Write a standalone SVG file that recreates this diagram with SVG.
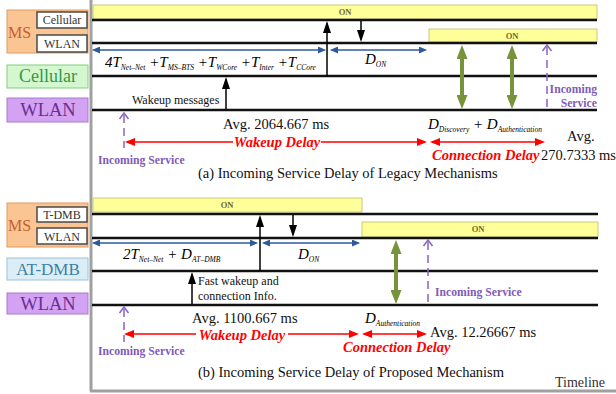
<svg xmlns="http://www.w3.org/2000/svg" width="616" height="394" viewBox="0 0 616 394">
<defs>
<style>
text{font-family:"Liberation Serif","Times New Roman",serif;}
.tl{stroke:#111;stroke-width:2.6;fill:none}
.bar{fill:#FFFF99;stroke:#C9C97A;stroke-width:1}
.on{font-size:8.5px;font-weight:bold;fill:#6b6b30;text-anchor:middle}
.blk{stroke:#000;stroke-width:1.5;fill:none;marker-end:url(#ab)}
.blu{stroke:#2E5A9C;stroke-width:1.3;fill:none;marker-start:url(#bh);marker-end:url(#bh)}
.grn{stroke:#77933C;stroke-width:4;fill:none;marker-start:url(#gh);marker-end:url(#gh)}
.red{stroke:#FF0000;stroke-width:1.6;fill:none;marker-end:url(#rh)}
.red2{stroke:#FF0000;stroke-width:1.6;fill:none;marker-start:url(#rh);marker-end:url(#rh)}
.pur{stroke:#8A63C2;stroke-width:1.5;stroke-dasharray:8 5;fill:none}
.purh{stroke:#8A63C2;stroke-width:1.5;fill:none}
.math{font-style:italic;font-size:15px;fill:#000}
.sub{font-size:7.5px}
.lab{font-size:14.5px;fill:#111}
.delay{font-size:14.5px;font-weight:bold;font-style:italic;fill:#FF0000}
.inc{font-size:11.7px;font-weight:bold;fill:#7F5AB8}
.note{font-size:12px;fill:#111}
.frame{stroke:#A0A0A0;stroke-width:3;fill:none}
.ms{fill:#FBC493;stroke:#E39B5E;stroke-width:1}
.inner{fill:#fff;stroke:#4a4a4a;stroke-width:1.5}
.innert{font-size:12px;fill:#333;text-anchor:middle}
.mst{font-size:16px;fill:#C8602A}
.big{text-anchor:middle}
</style>
<marker id="ab" markerUnits="userSpaceOnUse" markerWidth="12" markerHeight="8" refX="9.5" refY="4" orient="auto"><path d="M0,0 L12,4 L0,8 z" fill="#000"/></marker>
<marker id="bh" markerUnits="userSpaceOnUse" markerWidth="8" markerHeight="7" refX="6.5" refY="3.5" orient="auto-start-reverse"><path d="M0,0 L8,3.5 L0,7 z" fill="#2E5A9C"/></marker>
<marker id="gh" markerUnits="userSpaceOnUse" markerWidth="14" markerHeight="11" refX="8" refY="5.5" orient="auto-start-reverse"><path d="M0,0 L14,5.5 L0,11 z" fill="#77933C"/></marker>
<marker id="rh" markerUnits="userSpaceOnUse" markerWidth="10" markerHeight="8" refX="8" refY="4" orient="auto-start-reverse"><path d="M0,0 L10,4 L0,8 z" fill="#FF0000"/></marker>
</defs>
<rect width="616" height="394" fill="#fff"/>
<path class="frame" d="M91,0 V391 M90,391 H616"/>

<!-- top left labels -->
<g id="ms-legacy">
<rect class="ms" x="7" y="10" width="81" height="43"/>
<rect class="inner" x="37" y="12" width="50" height="16"/>
<rect class="inner" x="37" y="35" width="50" height="17"/>
<text class="mst" x="8" y="38">MS</text>
<text class="innert" x="62" y="24">Cellular</text>
<text class="innert" x="62" y="48">WLAN</text>
</g>
<g id="cellular">
<rect x="7" y="65" width="81" height="23" fill="#D5F7CF" stroke="#7FCF7F"/>
<text class="big" x="48" y="82" font-size="18" fill="#2F9A46">Cellular</text>
</g>
<g id="wlan-legacy">
<rect x="7" y="98" width="81" height="24" fill="#D3A2F2" stroke="#A77BD0"/>
<text class="big" x="48" y="116" font-size="18.5" fill="#6B2D92">WLAN</text>
</g>

<!-- bottom left labels -->
<g id="ms-proposed">
<rect class="ms" x="7" y="203" width="81" height="44"/>
<rect class="inner" x="37" y="207" width="50" height="15"/>
<rect class="inner" x="37" y="228" width="50" height="16"/>
<text class="mst" x="8" y="231">MS</text>
<text class="innert" x="62" y="219">T-DMB</text>
<text class="innert" x="62" y="241">WLAN</text>
</g>
<g id="at-dmb">
<rect x="7" y="258" width="81" height="22" fill="#DCEEF5" stroke="#9CC0D6"/>
<text class="big" x="48" y="275" font-size="17" fill="#3E7EA6">AT-DMB</text>
</g>
<g id="wlan-proposed">
<rect x="7" y="293" width="81" height="21" fill="#D3A2F2" stroke="#A77BD0"/>
<text class="big" x="48" y="310" font-size="18.5" fill="#6B2D92">WLAN</text>
</g>

<!-- top timelines -->
<g id="timeline-legacy">
<rect class="bar" x="93" y="5" width="504" height="14"/>
<rect class="bar" x="429" y="29" width="168" height="13"/>
<path class="tl" d="M92,20 H597 M92,43 H597 M92,76 H597 M92,110 H597"/>
<text class="on" x="345" y="15">ON</text>
<text class="on" x="512" y="39">ON</text>
</g>

<!-- bottom timelines -->
<g id="timeline-proposed">
<rect class="bar" x="93" y="198" width="269" height="14"/>
<rect class="bar" x="362" y="222" width="236" height="15"/>
<path class="tl" d="M92,214 H598 M92,238 H598 M92,271 H598 M92,305 H598"/>
<text class="on" x="227" y="208">ON</text>
<text class="on" x="478" y="232">ON</text>
</g>

<g id="connectors">
<!-- top -->
<path class="blu" d="M93.5,50 H324.5"/>
<path class="blu" d="M331.5,50 H425.5"/>
<path class="blk" d="M327,76 V23.5"/>
<path class="blk" d="M361,21 V39.5"/>
<path class="blk" d="M226,109 V79.5"/>
<path class="grn" d="M462,51 V103"/>
<path class="grn" d="M512,51 V103"/>
<path class="pur" d="M547,47 V110"/>
<polyline class="purh" points="542.5,51 547,45 551.5,51"/>
<path class="pur" d="M124,115 V148"/>
<polyline class="purh" points="119.5,119 124,113 128.5,119"/>
<path class="red" d="M233,142 H127"/>
<path class="red" d="M321,142 H425"/>
<path class="red2" d="M432,142 H543"/>
<!-- bottom -->
<path class="blu" d="M93.5,243 H256.5"/>
<path class="blu" d="M263.5,243 H358.5"/>
<path class="blk" d="M260,271 V217.5"/>
<path class="blk" d="M293,215 V234.5"/>
<path class="blk" d="M192,304 V274.5"/>
<path class="grn" d="M396,246 V298"/>
<path class="pur" d="M428,242 V305"/>
<polyline class="purh" points="423.5,246 428,240 432.5,246"/>
<path class="pur" d="M124,309 V342"/>
<polyline class="purh" points="119.5,313 124,307 128.5,313"/>
<path class="red" d="M196,334 H126"/>
<path class="red" d="M288,334 H357"/>
<path class="red2" d="M364,334 H425"/>
</g>

<!-- top texts -->
<text class="math" x="105" y="67">4T<tspan class="sub" dy="3">Net–Net</tspan><tspan dy="-3"> +T</tspan><tspan class="sub" dy="3">MS–BTS</tspan><tspan dy="-3"> +T</tspan><tspan class="sub" dy="3">WCore</tspan><tspan dy="-3"> +T</tspan><tspan class="sub" dy="3">Inter</tspan><tspan dy="-3"> +T</tspan><tspan class="sub" dy="3">CCore</tspan></text>
<text class="math" x="365" y="64">D<tspan class="sub" dy="3">ON</tspan></text>
<text class="note" x="132" y="104">Wakeup messages</text>
<text class="inc" x="597" y="93" text-anchor="end">Incoming</text>
<text class="inc" x="597" y="107" text-anchor="end">Service</text>
<text class="lab" x="223" y="129">Avg. 2064.667 ms</text>
<text class="delay" x="277" y="147" text-anchor="middle">Wakeup Delay</text>
<text class="inc" x="98" y="164">Incoming Service</text>
<text class="math" x="428" y="129">D<tspan class="sub" dy="3">Discovery</tspan><tspan dy="-3"> + D</tspan><tspan class="sub" dy="3">Authentication</tspan></text>
<text class="lab" x="567" y="141">Avg.</text>
<text class="delay" x="432" y="160" font-size="13">Connection Delay</text>
<text class="lab" x="541" y="160" font-size="14">270.7333 ms</text>
<text class="lab" x="198" y="178">(a) Incoming Service Delay of Legacy Mechanisms</text>

<!-- bottom texts -->
<text class="math" x="123" y="259">2T<tspan class="sub" dy="3">Net–Net</tspan><tspan dy="-3"> + D</tspan><tspan class="sub" dy="3">AT–DMB</tspan></text>
<text class="math" x="298" y="259">D<tspan class="sub" dy="3">ON</tspan></text>
<text class="note" x="198" y="285">Fast wakeup and</text>
<text class="note" x="198" y="300">connection Info.</text>
<text class="inc" x="435" y="296">Incoming Service</text>
<text class="lab" x="192" y="323">Avg. 1100.667 ms</text>
<text class="delay" x="242" y="340" text-anchor="middle">Wakeup Delay</text>
<text class="inc" x="98" y="355">Incoming Service</text>
<text class="math" x="365" y="323">D<tspan class="sub" dy="3">Authentication</tspan></text>
<text class="lab" x="430" y="337">Avg. 12.26667 ms</text>
<text class="delay" x="343" y="352" font-size="14">Connection Delay</text>
<text class="lab" x="198" y="377">(b) Incoming Service Delay of Proposed Mechanism</text>
<text x="555" y="387" font-size="14" fill="#333">Timeline</text>
</svg>
